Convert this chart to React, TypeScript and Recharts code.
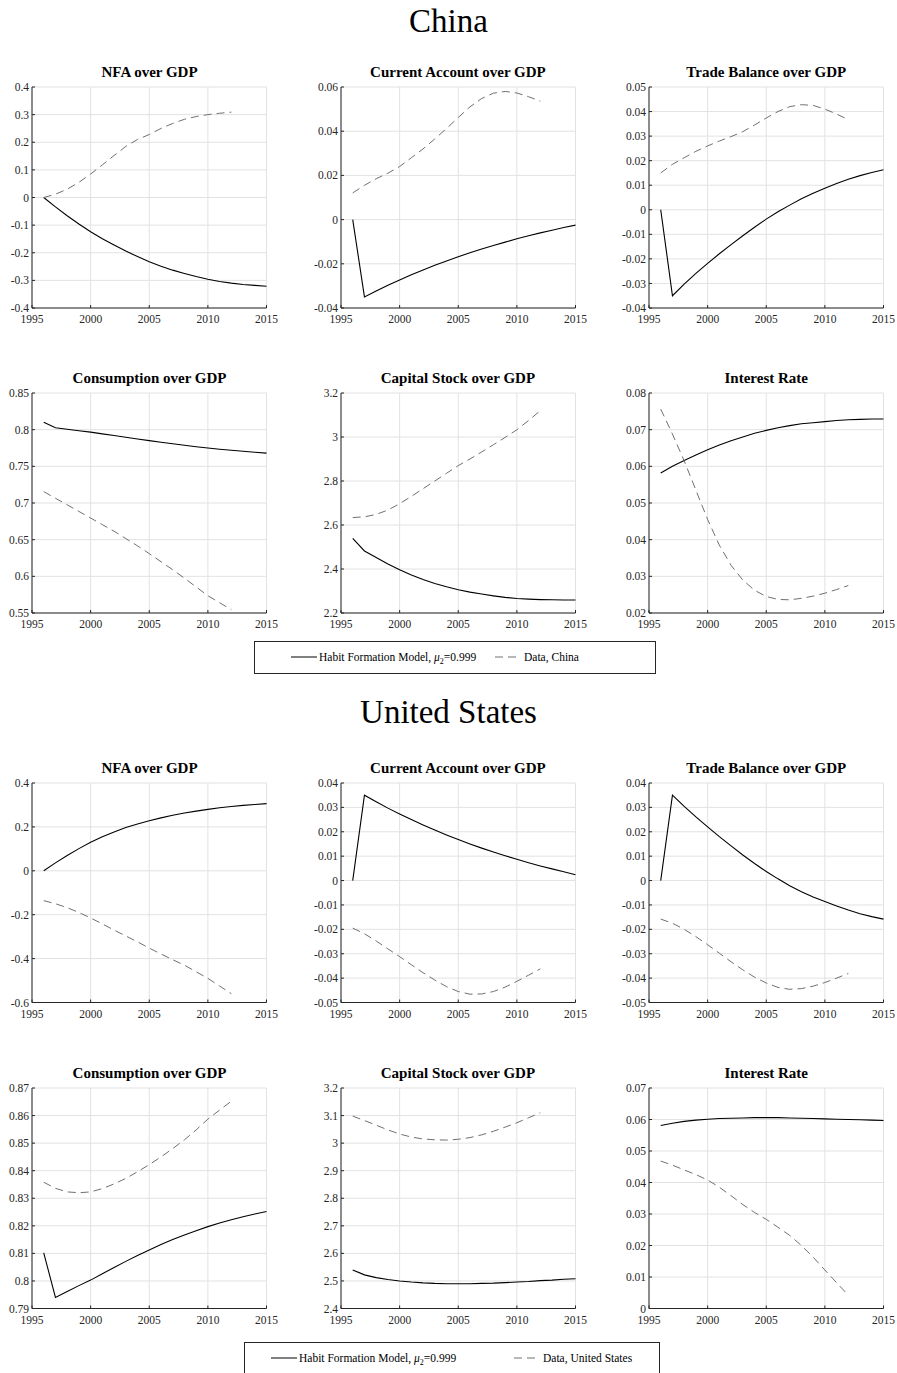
import React from 'react';
import { LineChart, Line, XAxis, YAxis, CartesianGrid } from 'recharts';

// model runs 1996-2015, observed data 1996-2012
const modelYears = [1996, 1997, 1998, 1999, 2000, 2001, 2002, 2003, 2004, 2005, 2006, 2007, 2008, 2009, 2010, 2011, 2012, 2013, 2014, 2015];
const yearTicks = [1995, 2000, 2005, 2010, 2015];

// ---- China ----
const cnNfaModel = [0, -0.034, -0.066, -0.096, -0.124, -0.149, -0.172, -0.194, -0.214, -0.233, -0.249, -0.263, -0.275, -0.286, -0.296, -0.304, -0.310, -0.315, -0.318, -0.321];
const cnNfaData = [0, 0.012, 0.03, 0.055, 0.085, 0.118, 0.152, 0.185, 0.21, 0.228, 0.25, 0.268, 0.283, 0.293, 0.3, 0.305, 0.309];
const cnNfaTicks = [-0.4, -0.3, -0.2, -0.1, 0, 0.1, 0.2, 0.3, 0.4];

const cnCaModel = [0, -0.035, -0.0323, -0.0297, -0.0273, -0.025, -0.0228, -0.0207, -0.0187, -0.0168, -0.015, -0.0133, -0.0117, -0.0102, -0.0087, -0.0073, -0.006, -0.0048, -0.0036, -0.0025];
const cnCaData = [0.0121, 0.0155, 0.0185, 0.021, 0.024, 0.028, 0.032, 0.0365, 0.0412, 0.0462, 0.051, 0.0548, 0.0572, 0.058, 0.0573, 0.0556, 0.0536];
const cnCaTicks = [-0.04, -0.02, 0, 0.02, 0.04, 0.06];

const cnTbModel = [0, -0.035, -0.0303, -0.0259, -0.0218, -0.0179, -0.0142, -0.0106, -0.0071, -0.0038, -0.0008, 0.0019, 0.0045, 0.0067, 0.0088, 0.0107, 0.0124, 0.0139, 0.0152, 0.0163];
const cnTbData = [0.015, 0.0185, 0.0212, 0.0238, 0.026, 0.028, 0.0298, 0.0318, 0.0345, 0.0374, 0.04, 0.042, 0.0428, 0.0425, 0.041, 0.039, 0.0367];
const cnTbTicks = [-0.04, -0.03, -0.02, -0.01, 0, 0.01, 0.02, 0.03, 0.04, 0.05];

const cnConsModel = [0.81, 0.8027, 0.8006, 0.7986, 0.7966, 0.7943, 0.792, 0.7897, 0.7873, 0.785, 0.7828, 0.7807, 0.7787, 0.7768, 0.775, 0.7734, 0.7719, 0.7705, 0.7692, 0.768];
const cnConsData = [0.7155, 0.7065, 0.6975, 0.6885, 0.6795, 0.6705, 0.6615, 0.6515, 0.6415, 0.631, 0.62, 0.609, 0.5975, 0.5855, 0.5736, 0.564, 0.5545];
const cnConsTicks = [0.55, 0.6, 0.65, 0.7, 0.75, 0.8, 0.85];

const cnCapModel = [2.539, 2.482, 2.452, 2.423, 2.397, 2.373, 2.352, 2.334, 2.319, 2.306, 2.295, 2.286, 2.278, 2.271, 2.266, 2.263, 2.261, 2.26, 2.259, 2.259];
const cnCapData = [2.634, 2.637, 2.648, 2.668, 2.697, 2.73, 2.765, 2.8, 2.835, 2.87, 2.9, 2.932, 2.965, 2.998, 3.033, 3.075, 3.12];
const cnCapTicks = [2.2, 2.4, 2.6, 2.8, 3, 3.2];

const cnRateModel = [0.0582, 0.06, 0.0616, 0.0631, 0.0645, 0.0658, 0.067, 0.068, 0.069, 0.0698, 0.0705, 0.0711, 0.0716, 0.0719, 0.0722, 0.0725, 0.0727, 0.0728, 0.0729, 0.0729];
const cnRateData = [0.0756, 0.0688, 0.0615, 0.0535, 0.0455, 0.0385, 0.033, 0.029, 0.0262, 0.0245, 0.0237, 0.0236, 0.024, 0.0246, 0.0254, 0.0264, 0.0275];
const cnRateTicks = [0.02, 0.03, 0.04, 0.05, 0.06, 0.07, 0.08];

// ---- United States ----
const usNfaModel = [0, 0.036, 0.07, 0.101, 0.13, 0.155, 0.177, 0.197, 0.213, 0.228, 0.241, 0.253, 0.263, 0.272, 0.28, 0.287, 0.293, 0.298, 0.302, 0.306];
const usNfaData = [-0.136, -0.15, -0.168, -0.19, -0.215, -0.242, -0.27, -0.297, -0.324, -0.352, -0.379, -0.405, -0.43, -0.46, -0.49, -0.525, -0.56];
const usNfaTicks = [-0.6, -0.4, -0.2, 0, 0.2, 0.4];

const usCaModel = [0, 0.035, 0.0323, 0.0297, 0.0273, 0.025, 0.0228, 0.0207, 0.0187, 0.0168, 0.015, 0.0133, 0.0117, 0.0102, 0.0087, 0.0073, 0.006, 0.0048, 0.0036, 0.0024];
const usCaData = [-0.0195, -0.0218, -0.0248, -0.028, -0.0312, -0.0345, -0.0378, -0.0408, -0.0435, -0.0455, -0.0466, -0.0465, -0.0455, -0.0437, -0.0413, -0.0388, -0.0362];
const usCaTicks = [-0.05, -0.04, -0.03, -0.02, -0.01, 0, 0.01, 0.02, 0.03, 0.04];

const usTbModel = [0, 0.035, 0.0304, 0.0261, 0.022, 0.018, 0.0142, 0.0105, 0.007, 0.0037, 0.0007, -0.0021, -0.0046, -0.0067, -0.0086, -0.0104, -0.0121, -0.0136, -0.0148, -0.0158];
const usTbData = [-0.0158, -0.0175, -0.02, -0.023, -0.0263, -0.0298, -0.0333, -0.0366, -0.0396, -0.042, -0.0438, -0.0446, -0.0443, -0.0433, -0.0418, -0.04, -0.0381];
const usTbTicks = [-0.05, -0.04, -0.03, -0.02, -0.01, 0, 0.01, 0.02, 0.03, 0.04];

const usConsModel = [0.8102, 0.794, 0.7962, 0.7983, 0.8003, 0.8026, 0.8049, 0.8071, 0.8092, 0.8112, 0.8132, 0.815, 0.8167, 0.8182, 0.8197, 0.821, 0.8222, 0.8233, 0.8243, 0.8252];
const usConsData = [0.8358, 0.8336, 0.8323, 0.832, 0.8323, 0.8335, 0.8352, 0.8372, 0.8396, 0.8422, 0.845, 0.848, 0.8512, 0.8548, 0.8587, 0.862, 0.8652];
const usConsTicks = [0.79, 0.8, 0.81, 0.82, 0.83, 0.84, 0.85, 0.86, 0.87];

const usCapModel = [2.54, 2.522, 2.512, 2.505, 2.5, 2.496, 2.493, 2.491, 2.49, 2.49, 2.49, 2.491, 2.492, 2.494, 2.496, 2.498, 2.501, 2.503, 2.506, 2.508];
const usCapData = [3.098, 3.082, 3.065, 3.048, 3.033, 3.022, 3.015, 3.012, 3.011, 3.014, 3.02, 3.03, 3.043, 3.058, 3.074, 3.092, 3.11];
const usCapTicks = [2.4, 2.5, 2.6, 2.7, 2.8, 2.9, 3, 3.1, 3.2];

const usRateModel = [0.0581, 0.0588, 0.0594, 0.0598, 0.0601, 0.0603, 0.0604, 0.0605, 0.0606, 0.0606, 0.0606, 0.0605, 0.0604, 0.0603, 0.0602, 0.0601, 0.06, 0.0599, 0.0598, 0.0597];
const usRateData = [0.0468, 0.0455, 0.044, 0.0425, 0.0408, 0.0385, 0.0358, 0.033, 0.0305, 0.0283, 0.0258, 0.0232, 0.02, 0.0163, 0.0122, 0.0082, 0.0042];
const usRateTicks = [0, 0.01, 0.02, 0.03, 0.04, 0.05, 0.06, 0.07];

const SERIF = '"Liberation Serif", "Times New Roman", serif';
const AXIS = '#262626';
const DATA_GREY = '#707070';
const DASH = '8 5';
const PLOT_W = 234.5;
const COLS = [32.3, 340.7, 649];
const Y_AXIS_W = 40;
const PAD_TOP = 8;
const PAD_RIGHT = 16;
const X_AXIS_H = 22;

function buildRows(model: number[], data: number[]) {
  return modelYears.map((year, i) => ({
    year,
    model: model[i],
    data: i < data.length ? data[i] : null,
  }));
}

type PanelProps = {
  title: string;
  col: number;
  top: number;
  h: number;
  model: number[];
  data: number[];
  ticks: number[];
};

function Panel({ title, col, top, h, model, data, ticks }: PanelProps) {
  const left = COLS[col];
  const rows = buildRows(model, data);
  const domain: [number, number] = [ticks[0], ticks[ticks.length - 1]];
  const tickFont = { fill: AXIS, fontSize: 11.5, fontFamily: SERIF };
  return (
    <>
      <div
        style={{
          position: 'absolute',
          left,
          width: PLOT_W,
          top: top - 22,
          textAlign: 'center',
          fontFamily: SERIF,
          fontWeight: 'bold',
          fontSize: 15,
          lineHeight: '15px',
          color: '#000',
          whiteSpace: 'nowrap',
        }}
      >
        {title}
      </div>
      <div style={{ position: 'absolute', left: left - Y_AXIS_W, top: top - PAD_TOP }}>
        <LineChart
          width={Y_AXIS_W + PLOT_W + PAD_RIGHT}
          height={PAD_TOP + h + X_AXIS_H}
          data={rows}
          margin={{ top: PAD_TOP, right: PAD_RIGHT, bottom: 0, left: 0 }}
        >
          <CartesianGrid stroke="#e2e2e2" strokeWidth={1} />
          <XAxis
            dataKey="year"
            type="number"
            domain={[1995, 2015]}
            ticks={yearTicks}
            interval={0}
            height={X_AXIS_H}
            tick={tickFont}
            tickSize={-3}
            tickMargin={10}
            stroke={AXIS}
            tickLine={{ stroke: AXIS }}
            axisLine={{ stroke: AXIS }}
          />
          <XAxis
            xAxisId="top"
            orientation="top"
            dataKey="year"
            type="number"
            domain={[1995, 2015]}
            ticks={yearTicks}
            height={0}
            tick={false}
            tickSize={-3}
            tickLine={{ stroke: AXIS }}
            axisLine={{ stroke: AXIS }}
          />
          <YAxis
            type="number"
            domain={domain}
            ticks={ticks}
            interval={0}
            width={Y_AXIS_W}
            tick={tickFont}
            tickSize={-3}
            tickMargin={6}
            tickFormatter={(v: number) => String(v)}
            tickLine={{ stroke: AXIS }}
            axisLine={{ stroke: AXIS }}
          />
          <YAxis
            yAxisId="right"
            orientation="right"
            type="number"
            domain={domain}
            ticks={ticks}
            width={0}
            tick={false}
            tickSize={-3}
            tickLine={{ stroke: AXIS }}
            axisLine={{ stroke: AXIS }}
          />
          <Line
            dataKey="model"
            type="linear"
            stroke="#000"
            strokeWidth={1.1}
            dot={false}
            isAnimationActive={false}
          />
          <Line
            dataKey="data"
            type="linear"
            stroke={DATA_GREY}
            strokeWidth={1}
            strokeDasharray={DASH}
            dot={false}
            isAnimationActive={false}
          />
        </LineChart>
      </div>
    </>
  );
}

type LegendProps = {
  left: number;
  top: number;
  width: number;
  country: string;
  solidAt: number;
  dashAt: number;
};

function Legend({ left, top, width, country, solidAt, dashAt }: LegendProps) {
  const text = { position: 'absolute' as const, top: 0, lineHeight: '31px', whiteSpace: 'nowrap' as const };
  return (
    <div
      style={{
        position: 'absolute',
        left,
        top,
        width,
        height: 33,
        border: `1px solid ${AXIS}`,
        boxSizing: 'border-box',
        fontFamily: SERIF,
        fontSize: 11.5,
        color: '#000',
      }}
    >
      <svg style={{ position: 'absolute', left: solidAt, top: 13 }} width={26} height={4}>
        <line x1={0} y1={2} x2={26} y2={2} stroke="#000" strokeWidth={1} />
      </svg>
      <div style={{ ...text, left: solidAt + 28 }}>
        Habit Formation Model, <i>μ</i>
        <sub style={{ fontSize: 8, lineHeight: 0 }}>2</sub>=0.999
      </div>
      <svg style={{ position: 'absolute', left: dashAt, top: 13 }} width={25} height={4}>
        <line x1={0} y1={2} x2={25} y2={2} stroke={DATA_GREY} strokeWidth={1} strokeDasharray="8 5" />
      </svg>
      <div style={{ ...text, left: dashAt + 29 }}>Data, {country}</div>
    </div>
  );
}

function SectionTitle({ top, text }: { top: number; text: string }) {
  return (
    <div
      style={{
        position: 'absolute',
        left: 0,
        width: 897,
        top,
        textAlign: 'center',
        fontFamily: SERIF,
        fontSize: 33,
        lineHeight: '33px',
        color: '#000',
      }}
    >
      {text}
    </div>
  );
}

export default function App() {
  const cnTop1 = 87.3;
  const cnTop2 = 393.3;
  const usTop1 = 783.3;
  const usTop2 = 1088.3;
  return (
    <div style={{ position: 'absolute', left: 0, top: 0, width: 897, height: 1373, background: '#fff', overflow: 'hidden' }}>
      <SectionTitle top={5} text="China" />
      <Panel title="NFA over GDP" col={0} top={cnTop1} h={221} model={cnNfaModel} data={cnNfaData} ticks={cnNfaTicks} />
      <Panel title="Current Account over GDP" col={1} top={cnTop1} h={221} model={cnCaModel} data={cnCaData} ticks={cnCaTicks} />
      <Panel title="Trade Balance over GDP" col={2} top={cnTop1} h={221} model={cnTbModel} data={cnTbData} ticks={cnTbTicks} />
      <Panel title="Consumption over GDP" col={0} top={cnTop2} h={220} model={cnConsModel} data={cnConsData} ticks={cnConsTicks} />
      <Panel title="Capital Stock over GDP" col={1} top={cnTop2} h={220} model={cnCapModel} data={cnCapData} ticks={cnCapTicks} />
      <Panel title="Interest Rate" col={2} top={cnTop2} h={220} model={cnRateModel} data={cnRateData} ticks={cnRateTicks} />
      <Legend left={254} top={641} width={402} country="China" solidAt={36} dashAt={240} />

      <SectionTitle top={696} text="United States" />
      <Panel title="NFA over GDP" col={0} top={usTop1} h={219.5} model={usNfaModel} data={usNfaData} ticks={usNfaTicks} />
      <Panel title="Current Account over GDP" col={1} top={usTop1} h={219.5} model={usCaModel} data={usCaData} ticks={usCaTicks} />
      <Panel title="Trade Balance over GDP" col={2} top={usTop1} h={219.5} model={usTbModel} data={usTbData} ticks={usTbTicks} />
      <Panel title="Consumption over GDP" col={0} top={usTop2} h={220.5} model={usConsModel} data={usConsData} ticks={usConsTicks} />
      <Panel title="Capital Stock over GDP" col={1} top={usTop2} h={220.5} model={usCapModel} data={usCapData} ticks={usCapTicks} />
      <Panel title="Interest Rate" col={2} top={usTop2} h={220.5} model={usRateModel} data={usRateData} ticks={usRateTicks} />
      <Legend left={244} top={1342} width={416} country="United States" solidAt={26} dashAt={269} />
    </div>
  );
}
